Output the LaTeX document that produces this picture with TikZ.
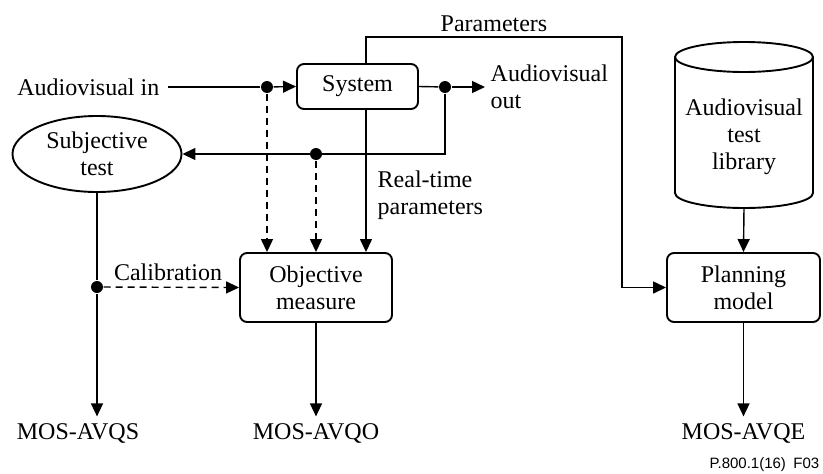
\documentclass[tikz,border=0pt]{standalone}
\usepackage{fontspec}
\setmainfont{Liberation Serif}
\newfontfamily\figfont{Liberation Sans}
\usetikzlibrary{arrows.meta,shapes.geometric,calc}
\begin{document}
\begin{tikzpicture}[x=1pt,y=-1pt,
  font=\fontsize{24}{27}\selectfont,
  line width=1.4pt,
  box/.style={draw,rounded corners=7pt,line width=1.9pt,align=center,inner sep=0pt},
  txt/.style={inner sep=0pt,align=center},
  dotn/.style={circle,fill,inner sep=0pt,minimum size=12pt},
  arr/.style={-{Triangle[length=13pt 0,width=12pt 0]}},
  dsh/.style={dash pattern=on 7pt off 5pt}
]
\useasboundingbox (0,0) rectangle (823,474);
% boxes
\node[box,minimum width=121pt,minimum height=45pt] (sys) at (357.5,86.5) {System};
\node[box,minimum width=152pt,minimum height=69pt] (obj) at (316,287.5) {Objective\\measure};
\node[box,minimum width=153pt,minimum height=69pt] (plan) at (743.5,287.5) {Planning\\model};
\node[draw,ellipse,line width=1.9pt,minimum width=169pt,minimum height=76pt,inner sep=0pt,align=center] (subj) at (97,154) {Subjective\\test};
% cylinder
\draw[line width=1.9pt] (675,57) -- (675,193) arc[start angle=180,end angle=0,x radius=69,y radius=15] -- (813,57);
\draw[line width=1.9pt] (744,57) ellipse[x radius=69,y radius=15];
\node[txt] (lib) at (744,137) {Audiovisual\\test\\library};
\coordinate (libb) at (744,208);
% texts
\node[txt,anchor=east] (avin) at (160,87) {Audiovisual in};
\node[txt,anchor=west,align=left] (avout) at (490,86.5) {Audiovisual\\out};
\node[txt] (params) at (494,24) {Parameters};
\node[txt,anchor=west,align=left] (rt) at (377,195) {Real-time\\parameters};
\node[txt] (calib) at (168,272) {Calibration};
\node[txt] (mosS) at (78,433) {MOS-AVQS};
\node[txt] (mosO) at (316,433) {MOS-AVQO};
\node[txt] (mosE) at (743.5,433) {MOS-AVQE};
\node[txt,anchor=east,font=\figfont\fontsize{15}{17}\selectfont] (fig) at (820,465) {P.800.1(16)\hspace{0.5em}F03};
% dots
\node[dotn] (d1) at (267,87) {};
\node[dotn] (d2) at (445,87) {};
\node[dotn] (d3) at (316,154) {};
\node[dotn] (d4) at (97,287) {};
\coordinate (pc) at (622,37);
% connectors
\draw ([xshift=8pt]avin.east) -- (d1);
\draw[arr] (d1) -- (sys.west);
\draw (sys.east) -- (d2);
\draw[arr] (d2) -- ([xshift=-5pt]avout.west |- d2);
\draw[arr] (d2) |- (subj.east);
\draw[arr,dsh] (d1) -- (d1 |- obj.north);
\draw[arr,dsh] (d3) -- (obj.north);
\draw[arr] ([xshift=8.5pt]sys.south) -- ([xshift=8.5pt]sys.south |- obj.north);
\draw[arr] ([xshift=8.5pt]sys.north) |- (pc) |- (plan.west);
\draw[arr] (libb) -- (plan.north);
\draw[arr] (plan.south) -- ([yshift=6pt]mosE.north);
\draw (subj.south) -- (d4);
\draw[arr] (d4) -- ([yshift=6pt]mosS.north -| d4);
\draw[arr,dsh] (d4) -- (obj.west);
\draw[arr] (obj.south) -- ([yshift=6pt]mosO.north);
\end{tikzpicture}
\end{document}
